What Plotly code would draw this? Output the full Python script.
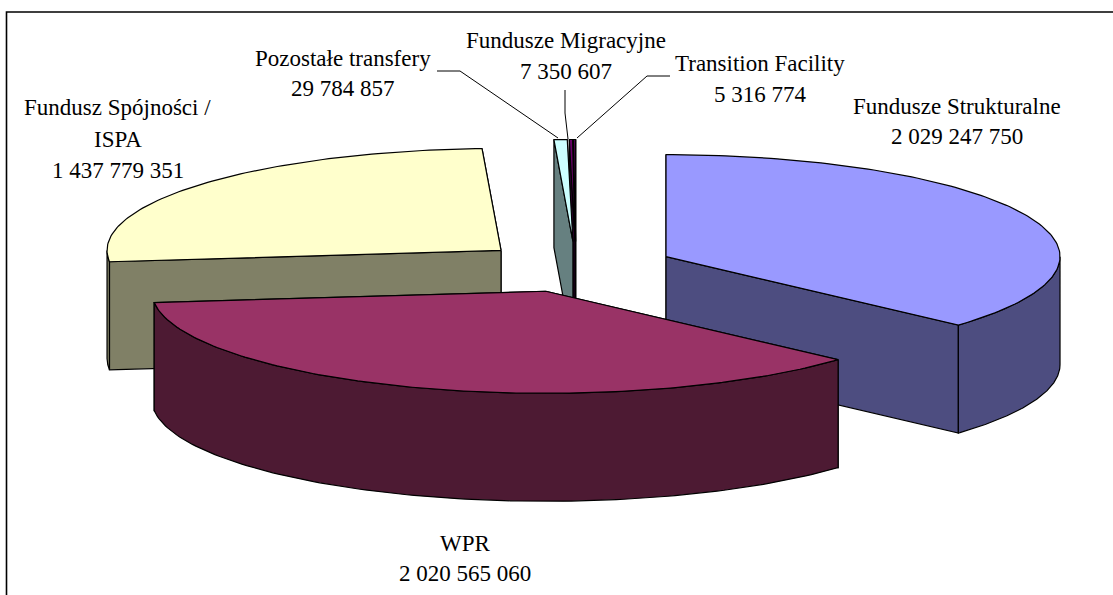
import numpy as np
import plotly.graph_objects as go

categories = ["Fundusze Strukturalne", "WPR", "Fundusz Spójności / ISPA",
              "Pozostałe transfery", "Fundusze Migracyjne", "Transition Facility"]
values = [2029247750, 2020565060, 1437779351, 29784857, 7350607, 5316774]
top_colors = ["#9999FF", "#993366", "#FFFFCC", "#CCFFFF", "#660066", "#4D004D"]
wall_colors = ["#4D4D80", "#4D1A33", "#808066", "#668080", "#330033", "#330033"]
draw_order = [5, 4, 3, 2, 0, 1]

# Pie projection (pixel scale of the hidden axes)
CX, CY = 576.0, 267.0
RX, RY = 394.0, 102.0
DEPTH = 108.0
EXPLODE = 0.25
W, H = 1113, 595
FONT = "Liberation Serif"
FS = 23

total = sum(values)
edges = np.concatenate([[0.0], np.cumsum(values)]) / total * 2 * np.pi


def rim(cx, cy, t):
    return cx + RX * np.sin(t), cy - RY * np.cos(t)


def poly(fig, xs, ys, color):
    fig.add_trace(go.Scatter(
        x=list(xs) + [xs[0]], y=list(ys) + [ys[0]], mode="lines", fill="toself",
        fillcolor=color, line=dict(color="black", width=1.2),
        hoverinfo="skip", showlegend=False))


fig = go.Figure()
for i in draw_order:
    t0, t1 = edges[i], edges[i + 1]
    mid = (t0 + t1) / 2
    cx = CX + EXPLODE * RX * np.sin(mid)
    cy = CY - EXPLODE * RY * np.cos(mid)
    # radial cut faces, rear one first
    for t in sorted([t0, t1], key=lambda a: -np.cos(a)):
        rx, ry = rim(cx, cy, t)
        poly(fig, [cx, rx, rx, cx], [cy, ry, ry + DEPTH, cy + DEPTH], wall_colors[i])
    # outer wall: only the front half of the rim is visible
    lo, hi = max(t0, np.pi / 2), min(t1, 3 * np.pi / 2)
    if hi > lo:
        ts = np.linspace(lo, hi, 120)
        wx, wy = rim(cx, cy, ts)
        poly(fig, np.r_[wx, wx[::-1]], np.r_[wy, wy[::-1] + DEPTH], wall_colors[i])
    # top face
    ts = np.linspace(t0, t1, max(int((t1 - t0) * 60), 4))
    tx, ty = rim(cx, cy, ts)
    poly(fig, np.r_[cx, tx], np.r_[cy, ty], top_colors[i])


def group(v):
    return f"{v:,}".replace(",", " ")


label_lines = [
    (["Fundusze Strukturalne", group(values[0])], 957, [106, 136]),
    (["WPR", group(values[1])], 465, [543, 573]),
    (["Fundusz Spójności /", "ISPA", group(values[2])], 117.5, [107, 139, 170]),
    (["Pozostałe transfery", group(values[3])], 343, [58, 88]),
    (["Fundusze Migracyjne", group(values[4])], 566, [40, 71]),
    (["Transition Facility", group(values[5])], 760, [63, 94]),
]
for lines, x, ys in label_lines:
    for text, y in zip(lines, ys):
        fig.add_annotation(x=x, y=y, text=text, showarrow=False, xanchor="center",
                           yanchor="middle", font=dict(family=FONT, size=FS, color="black"))

leaders = [
    ([437, 460, 558], [71, 71, 138]),
    ([565, 565, 568], [90, 113, 139]),
    ([670, 647, 577], [76, 76, 138]),
]
for lx, ly in leaders:
    fig.add_trace(go.Scatter(x=lx, y=ly, mode="lines", line=dict(color="black", width=1),
                             hoverinfo="skip", showlegend=False))

# chart frame: only the top and left edges are inside the crop
fig.add_trace(go.Scatter(x=[6.5, 6.5, W], y=[H, 12, 12], mode="lines",
                         line=dict(color="black", width=1.6),
                         hoverinfo="skip", showlegend=False))

fig.update_layout(
    width=W, height=H, margin=dict(l=0, r=0, t=0, b=0),
    paper_bgcolor="white", plot_bgcolor="white", showlegend=False,
    xaxis=dict(range=[0, W], visible=False, fixedrange=True),
    yaxis=dict(range=[H, 0], visible=False, fixedrange=True),
)
fig.write_html("out.html", config={"displayModeBar": False},
               post_script="document.body.style.margin='0';")
